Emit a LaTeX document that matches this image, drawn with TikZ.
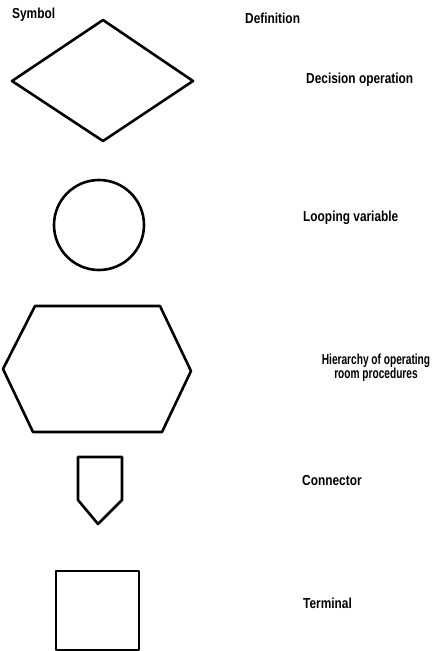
\documentclass[tikz,border=0pt]{standalone}
\usepackage{fontspec}
\setsansfont[FakeStretch=0.82]{Liberation Sans}
\usepackage{tikz}
\usetikzlibrary{positioning}

\begin{document}
\begin{tikzpicture}[
  x=1pt, y=-1pt,
  every node/.style={align=center, font=\fontsize{14.5}{15}\selectfont\sffamily\bfseries, inner sep=0pt},
  sym/.style  = {draw=black, line width=2.6pt, line join=round},
  head/.style = {anchor=west},
  defn/.style = {anchor=west},
  narrow/.style = {font=\fontsize{14.5}{14}\selectfont\sffamily\bfseries\addfontfeature{FakeStretch=0.7}},
]
\useasboundingbox (0,0) rectangle (436,651);
% headings
\node[head] (symhd) at (12,15) {Symbol};
\node[head] (defhd) at (245,18) {Definition};
% symbols
\draw[sym] (103,20) -- (193,81) -- (103,141) -- (12,81) -- cycle;
\draw[sym] (99,225) circle[radius=45pt];
\draw[sym] (35,306) -- (160,306) -- (191,371) -- (162,432) -- (33,432) -- (3,369) -- cycle;
\draw[sym] (78,457) -- (122,457) -- (122,500) -- (98,524) -- (78,500) -- cycle;
\draw[sym] (56,571) rectangle (139,650);
% definitions
\node[defn] (dec)  at (306,80)  {Decision operation};
\node[defn] (loop) at (303,218) {Looping variable};
\node[narrow] (hier) at (376,368) {Hierarchy of operating\\room procedures};
\node[defn] (conn) at (302,481) {Connector};
\node[defn] (term) at (303,603) {Terminal};
\end{tikzpicture}
\end{document}
